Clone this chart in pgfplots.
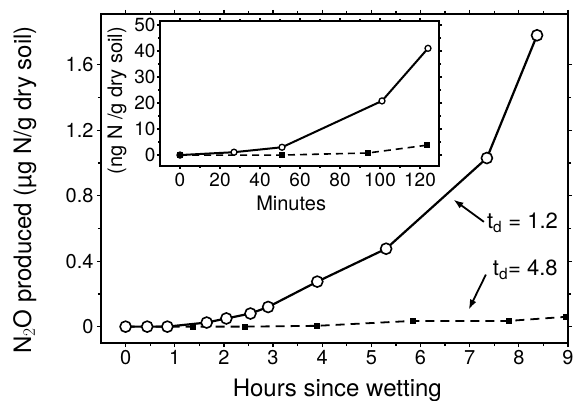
\documentclass[border=0pt]{standalone}
\usepackage{pgfplots}
\pgfplotsset{compat=1.18}
\usepackage{fontspec}
\setmainfont{TeX Gyre Heros}
\usetikzlibrary{arrows.meta}
\begin{document}
\begin{tikzpicture}
\begin{axis}[
  name=main,
  at={(0pt,0pt)}, anchor=south west,
  scale only axis, width=467pt, height=329pt,
  xmin=-0.5, xmax=9, ymin=-0.1, ymax=1.91,
  xtick={0,1,...,9}, ytick={0,0.4,0.8,1.2,1.6},
  yticklabels={0,0.4,0.8,1.2,1.6},
  minor x tick num=1, minor y tick num=1,
  tick align=outside, tick pos=both,
  major tick length=4pt, minor tick length=3pt,
  axis line style={line width=1.8pt},
  every tick/.style={line width=1.3pt, black},
  /pgf/number format/assume math mode=true,
  tick label style={font=\fontsize{20}{24}\selectfont},
  xlabel={Hours since wetting},
  ylabel={N$_2$O produced (µg N/g dry soil)},
  label style={font=\fontsize{24}{28}\selectfont},
  xlabel style={at={(axis description cs:0.506,-0.143)}, anchor=center},
  ylabel style={at={(axis description cs:-0.163,0.465)}, anchor=center},
  clip=false,
]
\addplot[black, line width=1.8pt, dash pattern=on 9pt off 6pt, mark=square*, mark size=2.2pt, mark options={solid}]
  coordinates {(0,0) (1.37,0) (2.43,0) (3.9,0.005) (5.84,0.035) (7.8,0.035) (8.96,0.06)};
\addplot[black, line width=2.2pt, mark=*, mark size=5.5pt, mark options={fill=white, line width=1.6pt}]
  coordinates {(0,0) (0.44,0) (0.85,0) (1.65,0.025) (2.05,0.05) (2.54,0.08) (2.9,0.12) (3.9,0.275) (5.3,0.476) (7.35,1.03) (8.37,1.78)};
\node[anchor=west, font=\fontsize{22}{26}\selectfont, inner sep=0pt] at (axis cs:7.35,0.635) {t$_{\mathrm{d}}$ = 1.2};
\node[anchor=west, font=\fontsize{22}{26}\selectfont, inner sep=0pt] at (axis cs:7.47,0.348) {t$_{\mathrm{d}}$= 4.8};
\draw[-{Latex[length=10pt,width=7pt]}, line width=1.8pt] (axis cs:7.29,0.64) -- (axis cs:6.67,0.776);
\draw[-{Latex[length=10pt,width=7pt]}, line width=1.8pt] (axis cs:7.33,0.318) -- (axis cs:6.98,0.104);
\end{axis}
\begin{axis}[
  at={(59pt,177pt)}, anchor=south west,
  scale only axis, width=279pt, height=145pt,
  xmin=-10, xmax=129.5, ymin=-4.2, ymax=51.5,
  xtick={0,20,...,120}, ytick={0,10,...,50},
  minor x tick num=1, minor y tick num=1,
  tick align=outside, tick pos=both,
  major tick length=3pt, minor tick length=2pt,
  axis line style={line width=1.8pt},
  every tick/.style={line width=1.3pt, black},
  axis background/.style={fill=white},
  /pgf/number format/assume math mode=true,
  tick label style={font=\fontsize{19}{22}\selectfont},
  yticklabel style={xshift=2pt},
  xlabel={Minutes},
  ylabel={(ng N /g dry soil)},
  label style={font=\fontsize{20}{24}\selectfont},
  xlabel style={at={(axis description cs:0.47,-0.255)}, anchor=center},
  ylabel style={at={(axis description cs:-0.154,0.45)}, anchor=center},
]
\addplot[black, line width=1.6pt, dash pattern=on 7pt off 5pt, mark=square*, mark size=2pt, mark options={solid}]
  coordinates {(0,0) (51,0) (94,0.8) (123.5,3.8)};
\addplot[black, line width=2pt, mark=*, mark size=3pt, mark options={fill=white, line width=1.3pt}]
  coordinates {(0,0) (27,1.1) (51,3) (101,20.8) (124,41)};
\addplot[black, only marks, mark=*, mark size=3pt]
  coordinates {(0,0)};
\end{axis}
\pgfresetboundingbox
\path[use as bounding box] (-101pt,-58pt) rectangle (474pt,343pt);
\end{tikzpicture}
\end{document}
